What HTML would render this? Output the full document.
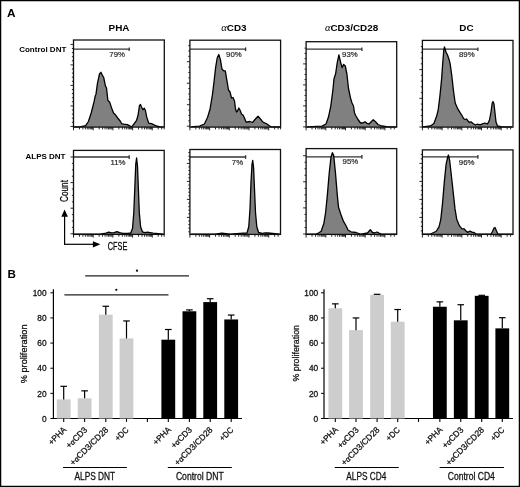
<!DOCTYPE html>
<html><head><meta charset="utf-8"><style>
html,body{margin:0;padding:0;background:#fff;}
body{width:520px;height:487px;overflow:hidden;}
svg{display:block;font-family:"Liberation Sans", sans-serif;filter:grayscale(1);}
.w{stroke:#111;stroke-width:0.28px;}
</style></head><body>
<svg width="520" height="487" viewBox="0 0 520 487">
<rect x="0" y="0" width="520" height="487" fill="#fff"/>
<line x1="73.5" y1="49.2" x2="129.2" y2="49.2" stroke="#333" stroke-width="1.3"/>
<line x1="129.2" y1="47.400000000000006" x2="129.2" y2="51.1" stroke="#333" stroke-width="1.3"/>
<text x="109.3" y="57.4" font-size="7.8" fill="#2a2a2a" class="w" style="stroke:#2a2a2a;stroke-width:0.2px">79%</text>
<path d="M74.10,126.95 L80.00,126.95 L85.60,125.60 L88.40,121.50 L91.20,113.00 L94.00,101.90 L95.30,95.60 L96.00,94.20 L97.40,83.70 L99.50,74.00 L100.90,72.30 L102.30,75.10 L103.70,77.50 L105.40,85.80 L106.50,88.00 L107.90,100.50 L109.60,101.90 L111.40,107.50 L113.50,113.00 L114.90,114.20 L117.70,118.00 L120.50,121.50 L121.70,123.70 L123.70,124.10 L127.50,124.60 L131.80,126.95 L134.20,123.70 L136.60,120.30 L138.10,115.00 L139.50,105.40 L140.50,104.40 L141.40,106.80 L142.90,109.70 L144.30,108.30 L145.30,110.20 L146.70,116.90 L148.70,123.20 L151.50,123.70 L153.50,124.60 L156.30,126.00 L160.20,126.95 L163.50,126.95 L163.50,127.1 L74.10,127.1 Z" fill="#808080" stroke="none"/>
<path d="M74.10,126.95 L80.00,126.95 L85.60,125.60 L88.40,121.50 L91.20,113.00 L94.00,101.90 L95.30,95.60 L96.00,94.20 L97.40,83.70 L99.50,74.00 L100.90,72.30 L102.30,75.10 L103.70,77.50 L105.40,85.80 L106.50,88.00 L107.90,100.50 L109.60,101.90 L111.40,107.50 L113.50,113.00 L114.90,114.20 L117.70,118.00 L120.50,121.50 L121.70,123.70 L123.70,124.10 L127.50,124.60 L131.80,126.95 L134.20,123.70 L136.60,120.30 L138.10,115.00 L139.50,105.40 L140.50,104.40 L141.40,106.80 L142.90,109.70 L144.30,108.30 L145.30,110.20 L146.70,116.90 L148.70,123.20 L151.50,123.70 L153.50,124.60 L156.30,126.00 L160.20,126.95 L163.50,126.95" fill="none" stroke="#000" stroke-width="1.3" stroke-linejoin="round"/>
<rect x="73.5" y="40.0" width="90.80000000000001" height="87.1" fill="none" stroke="#111" stroke-width="1.3"/>
<line x1="70.50" y1="44.40" x2="73.5" y2="44.40" stroke="#111" stroke-width="0.9"/>
<line x1="71.90" y1="48.50" x2="73.5" y2="48.50" stroke="#111" stroke-width="0.9"/>
<line x1="71.90" y1="52.60" x2="73.5" y2="52.60" stroke="#111" stroke-width="0.9"/>
<line x1="71.90" y1="56.70" x2="73.5" y2="56.70" stroke="#111" stroke-width="0.9"/>
<line x1="71.90" y1="60.80" x2="73.5" y2="60.80" stroke="#111" stroke-width="0.9"/>
<line x1="70.50" y1="64.90" x2="73.5" y2="64.90" stroke="#111" stroke-width="0.9"/>
<line x1="71.90" y1="69.00" x2="73.5" y2="69.00" stroke="#111" stroke-width="0.9"/>
<line x1="71.90" y1="73.10" x2="73.5" y2="73.10" stroke="#111" stroke-width="0.9"/>
<line x1="71.90" y1="77.20" x2="73.5" y2="77.20" stroke="#111" stroke-width="0.9"/>
<line x1="71.90" y1="81.30" x2="73.5" y2="81.30" stroke="#111" stroke-width="0.9"/>
<line x1="70.50" y1="85.40" x2="73.5" y2="85.40" stroke="#111" stroke-width="0.9"/>
<line x1="71.90" y1="89.50" x2="73.5" y2="89.50" stroke="#111" stroke-width="0.9"/>
<line x1="71.90" y1="93.60" x2="73.5" y2="93.60" stroke="#111" stroke-width="0.9"/>
<line x1="71.90" y1="97.70" x2="73.5" y2="97.70" stroke="#111" stroke-width="0.9"/>
<line x1="71.90" y1="101.80" x2="73.5" y2="101.80" stroke="#111" stroke-width="0.9"/>
<line x1="70.50" y1="105.90" x2="73.5" y2="105.90" stroke="#111" stroke-width="0.9"/>
<line x1="71.90" y1="110.00" x2="73.5" y2="110.00" stroke="#111" stroke-width="0.9"/>
<line x1="71.90" y1="114.10" x2="73.5" y2="114.10" stroke="#111" stroke-width="0.9"/>
<line x1="71.90" y1="118.20" x2="73.5" y2="118.20" stroke="#111" stroke-width="0.9"/>
<line x1="71.90" y1="122.30" x2="73.5" y2="122.30" stroke="#111" stroke-width="0.9"/>
<line x1="70.50" y1="126.40" x2="73.5" y2="126.40" stroke="#111" stroke-width="0.9"/>
<line x1="73.50" y1="127.1" x2="73.50" y2="130.30" stroke="#111" stroke-width="0.9"/>
<line x1="79.43" y1="127.1" x2="79.43" y2="129.40" stroke="#111" stroke-width="0.9"/>
<line x1="82.90" y1="127.1" x2="82.90" y2="129.40" stroke="#111" stroke-width="0.9"/>
<line x1="85.36" y1="127.1" x2="85.36" y2="129.40" stroke="#111" stroke-width="0.9"/>
<line x1="87.27" y1="127.1" x2="87.27" y2="129.40" stroke="#111" stroke-width="0.9"/>
<line x1="88.83" y1="127.1" x2="88.83" y2="129.40" stroke="#111" stroke-width="0.9"/>
<line x1="90.15" y1="127.1" x2="90.15" y2="129.40" stroke="#111" stroke-width="0.9"/>
<line x1="91.29" y1="127.1" x2="91.29" y2="129.40" stroke="#111" stroke-width="0.9"/>
<line x1="92.30" y1="127.1" x2="92.30" y2="129.40" stroke="#111" stroke-width="0.9"/>
<line x1="93.20" y1="127.1" x2="93.20" y2="130.30" stroke="#111" stroke-width="0.9"/>
<line x1="99.13" y1="127.1" x2="99.13" y2="129.40" stroke="#111" stroke-width="0.9"/>
<line x1="102.60" y1="127.1" x2="102.60" y2="129.40" stroke="#111" stroke-width="0.9"/>
<line x1="105.06" y1="127.1" x2="105.06" y2="129.40" stroke="#111" stroke-width="0.9"/>
<line x1="106.97" y1="127.1" x2="106.97" y2="129.40" stroke="#111" stroke-width="0.9"/>
<line x1="108.53" y1="127.1" x2="108.53" y2="129.40" stroke="#111" stroke-width="0.9"/>
<line x1="109.85" y1="127.1" x2="109.85" y2="129.40" stroke="#111" stroke-width="0.9"/>
<line x1="110.99" y1="127.1" x2="110.99" y2="129.40" stroke="#111" stroke-width="0.9"/>
<line x1="112.00" y1="127.1" x2="112.00" y2="129.40" stroke="#111" stroke-width="0.9"/>
<line x1="112.90" y1="127.1" x2="112.90" y2="130.30" stroke="#111" stroke-width="0.9"/>
<line x1="118.83" y1="127.1" x2="118.83" y2="129.40" stroke="#111" stroke-width="0.9"/>
<line x1="122.30" y1="127.1" x2="122.30" y2="129.40" stroke="#111" stroke-width="0.9"/>
<line x1="124.76" y1="127.1" x2="124.76" y2="129.40" stroke="#111" stroke-width="0.9"/>
<line x1="126.67" y1="127.1" x2="126.67" y2="129.40" stroke="#111" stroke-width="0.9"/>
<line x1="128.23" y1="127.1" x2="128.23" y2="129.40" stroke="#111" stroke-width="0.9"/>
<line x1="129.55" y1="127.1" x2="129.55" y2="129.40" stroke="#111" stroke-width="0.9"/>
<line x1="130.69" y1="127.1" x2="130.69" y2="129.40" stroke="#111" stroke-width="0.9"/>
<line x1="131.70" y1="127.1" x2="131.70" y2="129.40" stroke="#111" stroke-width="0.9"/>
<line x1="132.60" y1="127.1" x2="132.60" y2="130.30" stroke="#111" stroke-width="0.9"/>
<line x1="138.53" y1="127.1" x2="138.53" y2="129.40" stroke="#111" stroke-width="0.9"/>
<line x1="142.00" y1="127.1" x2="142.00" y2="129.40" stroke="#111" stroke-width="0.9"/>
<line x1="144.46" y1="127.1" x2="144.46" y2="129.40" stroke="#111" stroke-width="0.9"/>
<line x1="146.37" y1="127.1" x2="146.37" y2="129.40" stroke="#111" stroke-width="0.9"/>
<line x1="147.93" y1="127.1" x2="147.93" y2="129.40" stroke="#111" stroke-width="0.9"/>
<line x1="149.25" y1="127.1" x2="149.25" y2="129.40" stroke="#111" stroke-width="0.9"/>
<line x1="150.39" y1="127.1" x2="150.39" y2="129.40" stroke="#111" stroke-width="0.9"/>
<line x1="151.40" y1="127.1" x2="151.40" y2="129.40" stroke="#111" stroke-width="0.9"/>
<line x1="152.30" y1="127.1" x2="152.30" y2="130.30" stroke="#111" stroke-width="0.9"/>
<line x1="158.23" y1="127.1" x2="158.23" y2="129.40" stroke="#111" stroke-width="0.9"/>
<line x1="161.70" y1="127.1" x2="161.70" y2="129.40" stroke="#111" stroke-width="0.9"/>
<line x1="164.16" y1="127.1" x2="164.16" y2="129.40" stroke="#111" stroke-width="0.9"/>
<line x1="189.9" y1="49.2" x2="245.6" y2="49.2" stroke="#333" stroke-width="1.3"/>
<line x1="245.6" y1="47.400000000000006" x2="245.6" y2="51.1" stroke="#333" stroke-width="1.3"/>
<text x="226.1" y="57.4" font-size="7.8" fill="#2a2a2a" class="w" style="stroke:#2a2a2a;stroke-width:0.2px">90%</text>
<path d="M191.00,126.95 L199.60,126.10 L204.40,124.00 L207.60,117.30 L210.00,109.30 L212.40,94.90 L214.00,82.00 L215.60,67.60 L217.20,58.00 L218.80,54.50 L220.40,59.60 L222.00,69.20 L223.70,70.80 L225.30,70.80 L226.90,80.40 L228.50,90.00 L230.00,92.00 L231.50,98.00 L233.00,97.50 L234.50,101.00 L235.50,109.00 L236.50,112.00 L237.50,111.00 L238.80,108.00 L240.00,110.00 L241.50,114.00 L243.00,115.00 L244.50,118.00 L246.00,122.00 L247.50,122.00 L250.00,121.50 L252.50,122.50 L255.00,119.50 L258.00,116.20 L260.00,118.50 L263.00,122.20 L267.00,124.00 L271.00,126.95 L275.00,126.95 L280.00,126.95 L280.00,127.1 L191.00,127.1 Z" fill="#808080" stroke="none"/>
<path d="M191.00,126.95 L199.60,126.10 L204.40,124.00 L207.60,117.30 L210.00,109.30 L212.40,94.90 L214.00,82.00 L215.60,67.60 L217.20,58.00 L218.80,54.50 L220.40,59.60 L222.00,69.20 L223.70,70.80 L225.30,70.80 L226.90,80.40 L228.50,90.00 L230.00,92.00 L231.50,98.00 L233.00,97.50 L234.50,101.00 L235.50,109.00 L236.50,112.00 L237.50,111.00 L238.80,108.00 L240.00,110.00 L241.50,114.00 L243.00,115.00 L244.50,118.00 L246.00,122.00 L247.50,122.00 L250.00,121.50 L252.50,122.50 L255.00,119.50 L258.00,116.20 L260.00,118.50 L263.00,122.20 L267.00,124.00 L271.00,126.95 L275.00,126.95 L280.00,126.95" fill="none" stroke="#000" stroke-width="1.3" stroke-linejoin="round"/>
<rect x="189.9" y="40.2" width="90.70000000000002" height="86.89999999999999" fill="none" stroke="#111" stroke-width="1.3"/>
<line x1="188.30" y1="45.58" x2="189.9" y2="45.58" stroke="#111" stroke-width="0.9"/>
<line x1="188.30" y1="50.95" x2="189.9" y2="50.95" stroke="#111" stroke-width="0.9"/>
<line x1="188.30" y1="56.33" x2="189.9" y2="56.33" stroke="#111" stroke-width="0.9"/>
<line x1="186.90" y1="61.70" x2="189.9" y2="61.70" stroke="#111" stroke-width="0.9"/>
<line x1="188.30" y1="67.08" x2="189.9" y2="67.08" stroke="#111" stroke-width="0.9"/>
<line x1="188.30" y1="72.45" x2="189.9" y2="72.45" stroke="#111" stroke-width="0.9"/>
<line x1="188.30" y1="77.83" x2="189.9" y2="77.83" stroke="#111" stroke-width="0.9"/>
<line x1="186.90" y1="83.20" x2="189.9" y2="83.20" stroke="#111" stroke-width="0.9"/>
<line x1="188.30" y1="88.58" x2="189.9" y2="88.58" stroke="#111" stroke-width="0.9"/>
<line x1="188.30" y1="93.95" x2="189.9" y2="93.95" stroke="#111" stroke-width="0.9"/>
<line x1="188.30" y1="99.33" x2="189.9" y2="99.33" stroke="#111" stroke-width="0.9"/>
<line x1="186.90" y1="104.70" x2="189.9" y2="104.70" stroke="#111" stroke-width="0.9"/>
<line x1="188.30" y1="110.08" x2="189.9" y2="110.08" stroke="#111" stroke-width="0.9"/>
<line x1="188.30" y1="115.45" x2="189.9" y2="115.45" stroke="#111" stroke-width="0.9"/>
<line x1="188.30" y1="120.83" x2="189.9" y2="120.83" stroke="#111" stroke-width="0.9"/>
<line x1="186.90" y1="126.20" x2="189.9" y2="126.20" stroke="#111" stroke-width="0.9"/>
<line x1="189.90" y1="127.1" x2="189.90" y2="130.30" stroke="#111" stroke-width="0.9"/>
<line x1="195.83" y1="127.1" x2="195.83" y2="129.40" stroke="#111" stroke-width="0.9"/>
<line x1="199.30" y1="127.1" x2="199.30" y2="129.40" stroke="#111" stroke-width="0.9"/>
<line x1="201.76" y1="127.1" x2="201.76" y2="129.40" stroke="#111" stroke-width="0.9"/>
<line x1="203.67" y1="127.1" x2="203.67" y2="129.40" stroke="#111" stroke-width="0.9"/>
<line x1="205.23" y1="127.1" x2="205.23" y2="129.40" stroke="#111" stroke-width="0.9"/>
<line x1="206.55" y1="127.1" x2="206.55" y2="129.40" stroke="#111" stroke-width="0.9"/>
<line x1="207.69" y1="127.1" x2="207.69" y2="129.40" stroke="#111" stroke-width="0.9"/>
<line x1="208.70" y1="127.1" x2="208.70" y2="129.40" stroke="#111" stroke-width="0.9"/>
<line x1="209.60" y1="127.1" x2="209.60" y2="130.30" stroke="#111" stroke-width="0.9"/>
<line x1="215.53" y1="127.1" x2="215.53" y2="129.40" stroke="#111" stroke-width="0.9"/>
<line x1="219.00" y1="127.1" x2="219.00" y2="129.40" stroke="#111" stroke-width="0.9"/>
<line x1="221.46" y1="127.1" x2="221.46" y2="129.40" stroke="#111" stroke-width="0.9"/>
<line x1="223.37" y1="127.1" x2="223.37" y2="129.40" stroke="#111" stroke-width="0.9"/>
<line x1="224.93" y1="127.1" x2="224.93" y2="129.40" stroke="#111" stroke-width="0.9"/>
<line x1="226.25" y1="127.1" x2="226.25" y2="129.40" stroke="#111" stroke-width="0.9"/>
<line x1="227.39" y1="127.1" x2="227.39" y2="129.40" stroke="#111" stroke-width="0.9"/>
<line x1="228.40" y1="127.1" x2="228.40" y2="129.40" stroke="#111" stroke-width="0.9"/>
<line x1="229.30" y1="127.1" x2="229.30" y2="130.30" stroke="#111" stroke-width="0.9"/>
<line x1="235.23" y1="127.1" x2="235.23" y2="129.40" stroke="#111" stroke-width="0.9"/>
<line x1="238.70" y1="127.1" x2="238.70" y2="129.40" stroke="#111" stroke-width="0.9"/>
<line x1="241.16" y1="127.1" x2="241.16" y2="129.40" stroke="#111" stroke-width="0.9"/>
<line x1="243.07" y1="127.1" x2="243.07" y2="129.40" stroke="#111" stroke-width="0.9"/>
<line x1="244.63" y1="127.1" x2="244.63" y2="129.40" stroke="#111" stroke-width="0.9"/>
<line x1="245.95" y1="127.1" x2="245.95" y2="129.40" stroke="#111" stroke-width="0.9"/>
<line x1="247.09" y1="127.1" x2="247.09" y2="129.40" stroke="#111" stroke-width="0.9"/>
<line x1="248.10" y1="127.1" x2="248.10" y2="129.40" stroke="#111" stroke-width="0.9"/>
<line x1="249.00" y1="127.1" x2="249.00" y2="130.30" stroke="#111" stroke-width="0.9"/>
<line x1="254.93" y1="127.1" x2="254.93" y2="129.40" stroke="#111" stroke-width="0.9"/>
<line x1="258.40" y1="127.1" x2="258.40" y2="129.40" stroke="#111" stroke-width="0.9"/>
<line x1="260.86" y1="127.1" x2="260.86" y2="129.40" stroke="#111" stroke-width="0.9"/>
<line x1="262.77" y1="127.1" x2="262.77" y2="129.40" stroke="#111" stroke-width="0.9"/>
<line x1="264.33" y1="127.1" x2="264.33" y2="129.40" stroke="#111" stroke-width="0.9"/>
<line x1="265.65" y1="127.1" x2="265.65" y2="129.40" stroke="#111" stroke-width="0.9"/>
<line x1="266.79" y1="127.1" x2="266.79" y2="129.40" stroke="#111" stroke-width="0.9"/>
<line x1="267.80" y1="127.1" x2="267.80" y2="129.40" stroke="#111" stroke-width="0.9"/>
<line x1="268.70" y1="127.1" x2="268.70" y2="130.30" stroke="#111" stroke-width="0.9"/>
<line x1="274.63" y1="127.1" x2="274.63" y2="129.40" stroke="#111" stroke-width="0.9"/>
<line x1="278.10" y1="127.1" x2="278.10" y2="129.40" stroke="#111" stroke-width="0.9"/>
<line x1="280.56" y1="127.1" x2="280.56" y2="129.40" stroke="#111" stroke-width="0.9"/>
<line x1="306.1" y1="49.2" x2="361.9" y2="49.2" stroke="#333" stroke-width="1.3"/>
<line x1="361.9" y1="47.400000000000006" x2="361.9" y2="51.1" stroke="#333" stroke-width="1.3"/>
<text x="342.1" y="57.4" font-size="7.8" fill="#2a2a2a" class="w" style="stroke:#2a2a2a;stroke-width:0.2px">93%</text>
<path d="M307.00,126.95 L322.00,126.10 L326.00,124.00 L328.40,117.30 L330.80,106.10 L332.90,90.00 L334.00,78.80 L335.60,74.00 L337.20,62.80 L338.90,54.80 L340.50,62.00 L342.10,67.60 L343.70,64.40 L345.30,66.00 L346.90,74.00 L348.50,88.50 L350.50,98.00 L352.00,103.00 L353.50,106.00 L354.50,113.00 L356.00,116.00 L358.00,119.50 L360.50,123.00 L362.50,123.00 L365.00,121.80 L367.00,123.30 L369.00,124.00 L371.00,122.00 L373.20,119.80 L375.50,121.80 L378.00,124.50 L382.00,126.00 L388.00,126.95 L396.10,126.95 L396.10,127.1 L307.00,127.1 Z" fill="#808080" stroke="none"/>
<path d="M307.00,126.95 L322.00,126.10 L326.00,124.00 L328.40,117.30 L330.80,106.10 L332.90,90.00 L334.00,78.80 L335.60,74.00 L337.20,62.80 L338.90,54.80 L340.50,62.00 L342.10,67.60 L343.70,64.40 L345.30,66.00 L346.90,74.00 L348.50,88.50 L350.50,98.00 L352.00,103.00 L353.50,106.00 L354.50,113.00 L356.00,116.00 L358.00,119.50 L360.50,123.00 L362.50,123.00 L365.00,121.80 L367.00,123.30 L369.00,124.00 L371.00,122.00 L373.20,119.80 L375.50,121.80 L378.00,124.50 L382.00,126.00 L388.00,126.95 L396.10,126.95" fill="none" stroke="#000" stroke-width="1.3" stroke-linejoin="round"/>
<rect x="306.1" y="41.7" width="90.59999999999997" height="85.39999999999999" fill="none" stroke="#111" stroke-width="1.3"/>
<line x1="304.50" y1="48.15" x2="306.1" y2="48.15" stroke="#111" stroke-width="0.9"/>
<line x1="304.50" y1="53.40" x2="306.1" y2="53.40" stroke="#111" stroke-width="0.9"/>
<line x1="304.50" y1="58.65" x2="306.1" y2="58.65" stroke="#111" stroke-width="0.9"/>
<line x1="303.10" y1="63.90" x2="306.1" y2="63.90" stroke="#111" stroke-width="0.9"/>
<line x1="304.50" y1="69.15" x2="306.1" y2="69.15" stroke="#111" stroke-width="0.9"/>
<line x1="304.50" y1="74.40" x2="306.1" y2="74.40" stroke="#111" stroke-width="0.9"/>
<line x1="304.50" y1="79.65" x2="306.1" y2="79.65" stroke="#111" stroke-width="0.9"/>
<line x1="303.10" y1="84.90" x2="306.1" y2="84.90" stroke="#111" stroke-width="0.9"/>
<line x1="304.50" y1="90.15" x2="306.1" y2="90.15" stroke="#111" stroke-width="0.9"/>
<line x1="304.50" y1="95.40" x2="306.1" y2="95.40" stroke="#111" stroke-width="0.9"/>
<line x1="304.50" y1="100.65" x2="306.1" y2="100.65" stroke="#111" stroke-width="0.9"/>
<line x1="303.10" y1="105.90" x2="306.1" y2="105.90" stroke="#111" stroke-width="0.9"/>
<line x1="304.50" y1="111.15" x2="306.1" y2="111.15" stroke="#111" stroke-width="0.9"/>
<line x1="304.50" y1="116.40" x2="306.1" y2="116.40" stroke="#111" stroke-width="0.9"/>
<line x1="304.50" y1="121.65" x2="306.1" y2="121.65" stroke="#111" stroke-width="0.9"/>
<line x1="303.10" y1="126.90" x2="306.1" y2="126.90" stroke="#111" stroke-width="0.9"/>
<line x1="306.10" y1="127.1" x2="306.10" y2="130.30" stroke="#111" stroke-width="0.9"/>
<line x1="312.03" y1="127.1" x2="312.03" y2="129.40" stroke="#111" stroke-width="0.9"/>
<line x1="315.50" y1="127.1" x2="315.50" y2="129.40" stroke="#111" stroke-width="0.9"/>
<line x1="317.96" y1="127.1" x2="317.96" y2="129.40" stroke="#111" stroke-width="0.9"/>
<line x1="319.87" y1="127.1" x2="319.87" y2="129.40" stroke="#111" stroke-width="0.9"/>
<line x1="321.43" y1="127.1" x2="321.43" y2="129.40" stroke="#111" stroke-width="0.9"/>
<line x1="322.75" y1="127.1" x2="322.75" y2="129.40" stroke="#111" stroke-width="0.9"/>
<line x1="323.89" y1="127.1" x2="323.89" y2="129.40" stroke="#111" stroke-width="0.9"/>
<line x1="324.90" y1="127.1" x2="324.90" y2="129.40" stroke="#111" stroke-width="0.9"/>
<line x1="325.80" y1="127.1" x2="325.80" y2="130.30" stroke="#111" stroke-width="0.9"/>
<line x1="331.73" y1="127.1" x2="331.73" y2="129.40" stroke="#111" stroke-width="0.9"/>
<line x1="335.20" y1="127.1" x2="335.20" y2="129.40" stroke="#111" stroke-width="0.9"/>
<line x1="337.66" y1="127.1" x2="337.66" y2="129.40" stroke="#111" stroke-width="0.9"/>
<line x1="339.57" y1="127.1" x2="339.57" y2="129.40" stroke="#111" stroke-width="0.9"/>
<line x1="341.13" y1="127.1" x2="341.13" y2="129.40" stroke="#111" stroke-width="0.9"/>
<line x1="342.45" y1="127.1" x2="342.45" y2="129.40" stroke="#111" stroke-width="0.9"/>
<line x1="343.59" y1="127.1" x2="343.59" y2="129.40" stroke="#111" stroke-width="0.9"/>
<line x1="344.60" y1="127.1" x2="344.60" y2="129.40" stroke="#111" stroke-width="0.9"/>
<line x1="345.50" y1="127.1" x2="345.50" y2="130.30" stroke="#111" stroke-width="0.9"/>
<line x1="351.43" y1="127.1" x2="351.43" y2="129.40" stroke="#111" stroke-width="0.9"/>
<line x1="354.90" y1="127.1" x2="354.90" y2="129.40" stroke="#111" stroke-width="0.9"/>
<line x1="357.36" y1="127.1" x2="357.36" y2="129.40" stroke="#111" stroke-width="0.9"/>
<line x1="359.27" y1="127.1" x2="359.27" y2="129.40" stroke="#111" stroke-width="0.9"/>
<line x1="360.83" y1="127.1" x2="360.83" y2="129.40" stroke="#111" stroke-width="0.9"/>
<line x1="362.15" y1="127.1" x2="362.15" y2="129.40" stroke="#111" stroke-width="0.9"/>
<line x1="363.29" y1="127.1" x2="363.29" y2="129.40" stroke="#111" stroke-width="0.9"/>
<line x1="364.30" y1="127.1" x2="364.30" y2="129.40" stroke="#111" stroke-width="0.9"/>
<line x1="365.20" y1="127.1" x2="365.20" y2="130.30" stroke="#111" stroke-width="0.9"/>
<line x1="371.13" y1="127.1" x2="371.13" y2="129.40" stroke="#111" stroke-width="0.9"/>
<line x1="374.60" y1="127.1" x2="374.60" y2="129.40" stroke="#111" stroke-width="0.9"/>
<line x1="377.06" y1="127.1" x2="377.06" y2="129.40" stroke="#111" stroke-width="0.9"/>
<line x1="378.97" y1="127.1" x2="378.97" y2="129.40" stroke="#111" stroke-width="0.9"/>
<line x1="380.53" y1="127.1" x2="380.53" y2="129.40" stroke="#111" stroke-width="0.9"/>
<line x1="381.85" y1="127.1" x2="381.85" y2="129.40" stroke="#111" stroke-width="0.9"/>
<line x1="382.99" y1="127.1" x2="382.99" y2="129.40" stroke="#111" stroke-width="0.9"/>
<line x1="384.00" y1="127.1" x2="384.00" y2="129.40" stroke="#111" stroke-width="0.9"/>
<line x1="384.90" y1="127.1" x2="384.90" y2="130.30" stroke="#111" stroke-width="0.9"/>
<line x1="390.83" y1="127.1" x2="390.83" y2="129.40" stroke="#111" stroke-width="0.9"/>
<line x1="394.30" y1="127.1" x2="394.30" y2="129.40" stroke="#111" stroke-width="0.9"/>
<line x1="422.4" y1="49.2" x2="477.9" y2="49.2" stroke="#333" stroke-width="1.3"/>
<line x1="477.9" y1="47.400000000000006" x2="477.9" y2="51.1" stroke="#333" stroke-width="1.3"/>
<text x="459.0" y="57.4" font-size="7.8" fill="#2a2a2a" class="w" style="stroke:#2a2a2a;stroke-width:0.2px">89%</text>
<path d="M423.00,126.95 L430.50,126.00 L433.90,123.40 L436.50,116.60 L438.20,109.80 L439.90,96.10 L441.60,79.10 L442.80,62.00 L443.80,50.10 L444.50,47.00 L445.90,51.80 L447.60,55.20 L449.30,60.30 L450.10,63.70 L451.80,75.70 L453.50,91.00 L455.20,103.00 L457.80,108.90 L460.40,113.20 L462.00,115.50 L463.50,118.50 L465.00,119.50 L466.50,119.00 L468.00,121.00 L469.50,122.50 L471.00,121.80 L473.00,123.50 L475.50,125.00 L477.50,124.20 L480.00,124.80 L482.50,123.80 L485.00,123.00 L487.50,124.00 L489.50,120.00 L491.00,112.00 L492.20,103.00 L493.00,101.50 L494.00,104.00 L495.00,113.00 L496.00,122.00 L497.50,126.00 L502.00,126.95 L512.40,126.95 L512.40,127.1 L423.00,127.1 Z" fill="#808080" stroke="none"/>
<path d="M423.00,126.95 L430.50,126.00 L433.90,123.40 L436.50,116.60 L438.20,109.80 L439.90,96.10 L441.60,79.10 L442.80,62.00 L443.80,50.10 L444.50,47.00 L445.90,51.80 L447.60,55.20 L449.30,60.30 L450.10,63.70 L451.80,75.70 L453.50,91.00 L455.20,103.00 L457.80,108.90 L460.40,113.20 L462.00,115.50 L463.50,118.50 L465.00,119.50 L466.50,119.00 L468.00,121.00 L469.50,122.50 L471.00,121.80 L473.00,123.50 L475.50,125.00 L477.50,124.20 L480.00,124.80 L482.50,123.80 L485.00,123.00 L487.50,124.00 L489.50,120.00 L491.00,112.00 L492.20,103.00 L493.00,101.50 L494.00,104.00 L495.00,113.00 L496.00,122.00 L497.50,126.00 L502.00,126.95 L512.40,126.95" fill="none" stroke="#000" stroke-width="1.3" stroke-linejoin="round"/>
<rect x="422.4" y="40.4" width="90.60000000000002" height="86.69999999999999" fill="none" stroke="#111" stroke-width="1.3"/>
<line x1="420.80" y1="46.64" x2="422.4" y2="46.64" stroke="#111" stroke-width="0.9"/>
<line x1="420.80" y1="52.38" x2="422.4" y2="52.38" stroke="#111" stroke-width="0.9"/>
<line x1="420.80" y1="58.12" x2="422.4" y2="58.12" stroke="#111" stroke-width="0.9"/>
<line x1="420.80" y1="63.86" x2="422.4" y2="63.86" stroke="#111" stroke-width="0.9"/>
<line x1="419.40" y1="69.60" x2="422.4" y2="69.60" stroke="#111" stroke-width="0.9"/>
<line x1="420.80" y1="75.34" x2="422.4" y2="75.34" stroke="#111" stroke-width="0.9"/>
<line x1="420.80" y1="81.08" x2="422.4" y2="81.08" stroke="#111" stroke-width="0.9"/>
<line x1="420.80" y1="86.82" x2="422.4" y2="86.82" stroke="#111" stroke-width="0.9"/>
<line x1="420.80" y1="92.56" x2="422.4" y2="92.56" stroke="#111" stroke-width="0.9"/>
<line x1="419.40" y1="98.30" x2="422.4" y2="98.30" stroke="#111" stroke-width="0.9"/>
<line x1="420.80" y1="104.04" x2="422.4" y2="104.04" stroke="#111" stroke-width="0.9"/>
<line x1="420.80" y1="109.78" x2="422.4" y2="109.78" stroke="#111" stroke-width="0.9"/>
<line x1="420.80" y1="115.52" x2="422.4" y2="115.52" stroke="#111" stroke-width="0.9"/>
<line x1="420.80" y1="121.26" x2="422.4" y2="121.26" stroke="#111" stroke-width="0.9"/>
<line x1="419.40" y1="127.00" x2="422.4" y2="127.00" stroke="#111" stroke-width="0.9"/>
<line x1="422.40" y1="127.1" x2="422.40" y2="130.30" stroke="#111" stroke-width="0.9"/>
<line x1="428.33" y1="127.1" x2="428.33" y2="129.40" stroke="#111" stroke-width="0.9"/>
<line x1="431.80" y1="127.1" x2="431.80" y2="129.40" stroke="#111" stroke-width="0.9"/>
<line x1="434.26" y1="127.1" x2="434.26" y2="129.40" stroke="#111" stroke-width="0.9"/>
<line x1="436.17" y1="127.1" x2="436.17" y2="129.40" stroke="#111" stroke-width="0.9"/>
<line x1="437.73" y1="127.1" x2="437.73" y2="129.40" stroke="#111" stroke-width="0.9"/>
<line x1="439.05" y1="127.1" x2="439.05" y2="129.40" stroke="#111" stroke-width="0.9"/>
<line x1="440.19" y1="127.1" x2="440.19" y2="129.40" stroke="#111" stroke-width="0.9"/>
<line x1="441.20" y1="127.1" x2="441.20" y2="129.40" stroke="#111" stroke-width="0.9"/>
<line x1="442.10" y1="127.1" x2="442.10" y2="130.30" stroke="#111" stroke-width="0.9"/>
<line x1="448.03" y1="127.1" x2="448.03" y2="129.40" stroke="#111" stroke-width="0.9"/>
<line x1="451.50" y1="127.1" x2="451.50" y2="129.40" stroke="#111" stroke-width="0.9"/>
<line x1="453.96" y1="127.1" x2="453.96" y2="129.40" stroke="#111" stroke-width="0.9"/>
<line x1="455.87" y1="127.1" x2="455.87" y2="129.40" stroke="#111" stroke-width="0.9"/>
<line x1="457.43" y1="127.1" x2="457.43" y2="129.40" stroke="#111" stroke-width="0.9"/>
<line x1="458.75" y1="127.1" x2="458.75" y2="129.40" stroke="#111" stroke-width="0.9"/>
<line x1="459.89" y1="127.1" x2="459.89" y2="129.40" stroke="#111" stroke-width="0.9"/>
<line x1="460.90" y1="127.1" x2="460.90" y2="129.40" stroke="#111" stroke-width="0.9"/>
<line x1="461.80" y1="127.1" x2="461.80" y2="130.30" stroke="#111" stroke-width="0.9"/>
<line x1="467.73" y1="127.1" x2="467.73" y2="129.40" stroke="#111" stroke-width="0.9"/>
<line x1="471.20" y1="127.1" x2="471.20" y2="129.40" stroke="#111" stroke-width="0.9"/>
<line x1="473.66" y1="127.1" x2="473.66" y2="129.40" stroke="#111" stroke-width="0.9"/>
<line x1="475.57" y1="127.1" x2="475.57" y2="129.40" stroke="#111" stroke-width="0.9"/>
<line x1="477.13" y1="127.1" x2="477.13" y2="129.40" stroke="#111" stroke-width="0.9"/>
<line x1="478.45" y1="127.1" x2="478.45" y2="129.40" stroke="#111" stroke-width="0.9"/>
<line x1="479.59" y1="127.1" x2="479.59" y2="129.40" stroke="#111" stroke-width="0.9"/>
<line x1="480.60" y1="127.1" x2="480.60" y2="129.40" stroke="#111" stroke-width="0.9"/>
<line x1="481.50" y1="127.1" x2="481.50" y2="130.30" stroke="#111" stroke-width="0.9"/>
<line x1="487.43" y1="127.1" x2="487.43" y2="129.40" stroke="#111" stroke-width="0.9"/>
<line x1="490.90" y1="127.1" x2="490.90" y2="129.40" stroke="#111" stroke-width="0.9"/>
<line x1="493.36" y1="127.1" x2="493.36" y2="129.40" stroke="#111" stroke-width="0.9"/>
<line x1="495.27" y1="127.1" x2="495.27" y2="129.40" stroke="#111" stroke-width="0.9"/>
<line x1="496.83" y1="127.1" x2="496.83" y2="129.40" stroke="#111" stroke-width="0.9"/>
<line x1="498.15" y1="127.1" x2="498.15" y2="129.40" stroke="#111" stroke-width="0.9"/>
<line x1="499.29" y1="127.1" x2="499.29" y2="129.40" stroke="#111" stroke-width="0.9"/>
<line x1="500.30" y1="127.1" x2="500.30" y2="129.40" stroke="#111" stroke-width="0.9"/>
<line x1="501.20" y1="127.1" x2="501.20" y2="130.30" stroke="#111" stroke-width="0.9"/>
<line x1="507.13" y1="127.1" x2="507.13" y2="129.40" stroke="#111" stroke-width="0.9"/>
<line x1="510.60" y1="127.1" x2="510.60" y2="129.40" stroke="#111" stroke-width="0.9"/>
<line x1="73.5" y1="157.0" x2="129.2" y2="157.0" stroke="#333" stroke-width="1.3"/>
<line x1="129.2" y1="155.2" x2="129.2" y2="158.9" stroke="#333" stroke-width="1.3"/>
<text x="110.4" y="164.7" font-size="7.8" fill="#2a2a2a" class="w" style="stroke:#2a2a2a;stroke-width:0.2px">11%</text>
<path d="M74.10,234.25 L100.00,234.25 L106.00,233.20 L108.80,232.10 L111.50,232.80 L114.00,232.60 L117.10,231.60 L119.50,232.60 L123.00,233.40 L128.00,233.40 L130.75,233.00 L132.50,228.60 L133.80,212.50 L134.90,185.70 L135.75,164.30 L136.60,158.00 L137.50,166.00 L138.40,189.30 L139.30,212.50 L140.60,226.80 L142.40,231.80 L145.00,232.60 L147.50,232.20 L150.00,232.60 L153.00,233.20 L163.50,234.25 L163.50,234.4 L74.10,234.4 Z" fill="#808080" stroke="none"/>
<path d="M74.10,234.25 L100.00,234.25 L106.00,233.20 L108.80,232.10 L111.50,232.80 L114.00,232.60 L117.10,231.60 L119.50,232.60 L123.00,233.40 L128.00,233.40 L130.75,233.00 L132.50,228.60 L133.80,212.50 L134.90,185.70 L135.75,164.30 L136.60,158.00 L137.50,166.00 L138.40,189.30 L139.30,212.50 L140.60,226.80 L142.40,231.80 L145.00,232.60 L147.50,232.20 L150.00,232.60 L153.00,233.20 L163.50,234.25" fill="none" stroke="#000" stroke-width="1.3" stroke-linejoin="round"/>
<rect x="73.5" y="150.4" width="90.69999999999999" height="84.0" fill="none" stroke="#111" stroke-width="1.3"/>
<line x1="70.50" y1="157.00" x2="73.5" y2="157.00" stroke="#111" stroke-width="0.9"/>
<line x1="71.90" y1="163.40" x2="73.5" y2="163.40" stroke="#111" stroke-width="0.9"/>
<line x1="71.90" y1="169.80" x2="73.5" y2="169.80" stroke="#111" stroke-width="0.9"/>
<line x1="71.90" y1="176.20" x2="73.5" y2="176.20" stroke="#111" stroke-width="0.9"/>
<line x1="70.50" y1="182.60" x2="73.5" y2="182.60" stroke="#111" stroke-width="0.9"/>
<line x1="71.90" y1="189.00" x2="73.5" y2="189.00" stroke="#111" stroke-width="0.9"/>
<line x1="71.90" y1="195.40" x2="73.5" y2="195.40" stroke="#111" stroke-width="0.9"/>
<line x1="71.90" y1="201.80" x2="73.5" y2="201.80" stroke="#111" stroke-width="0.9"/>
<line x1="70.50" y1="208.20" x2="73.5" y2="208.20" stroke="#111" stroke-width="0.9"/>
<line x1="71.90" y1="214.60" x2="73.5" y2="214.60" stroke="#111" stroke-width="0.9"/>
<line x1="71.90" y1="221.00" x2="73.5" y2="221.00" stroke="#111" stroke-width="0.9"/>
<line x1="71.90" y1="227.40" x2="73.5" y2="227.40" stroke="#111" stroke-width="0.9"/>
<line x1="70.50" y1="233.80" x2="73.5" y2="233.80" stroke="#111" stroke-width="0.9"/>
<line x1="73.50" y1="234.4" x2="73.50" y2="237.60" stroke="#111" stroke-width="0.9"/>
<line x1="79.43" y1="234.4" x2="79.43" y2="236.70" stroke="#111" stroke-width="0.9"/>
<line x1="82.90" y1="234.4" x2="82.90" y2="236.70" stroke="#111" stroke-width="0.9"/>
<line x1="85.36" y1="234.4" x2="85.36" y2="236.70" stroke="#111" stroke-width="0.9"/>
<line x1="87.27" y1="234.4" x2="87.27" y2="236.70" stroke="#111" stroke-width="0.9"/>
<line x1="88.83" y1="234.4" x2="88.83" y2="236.70" stroke="#111" stroke-width="0.9"/>
<line x1="90.15" y1="234.4" x2="90.15" y2="236.70" stroke="#111" stroke-width="0.9"/>
<line x1="91.29" y1="234.4" x2="91.29" y2="236.70" stroke="#111" stroke-width="0.9"/>
<line x1="92.30" y1="234.4" x2="92.30" y2="236.70" stroke="#111" stroke-width="0.9"/>
<line x1="93.20" y1="234.4" x2="93.20" y2="237.60" stroke="#111" stroke-width="0.9"/>
<line x1="99.13" y1="234.4" x2="99.13" y2="236.70" stroke="#111" stroke-width="0.9"/>
<line x1="102.60" y1="234.4" x2="102.60" y2="236.70" stroke="#111" stroke-width="0.9"/>
<line x1="105.06" y1="234.4" x2="105.06" y2="236.70" stroke="#111" stroke-width="0.9"/>
<line x1="106.97" y1="234.4" x2="106.97" y2="236.70" stroke="#111" stroke-width="0.9"/>
<line x1="108.53" y1="234.4" x2="108.53" y2="236.70" stroke="#111" stroke-width="0.9"/>
<line x1="109.85" y1="234.4" x2="109.85" y2="236.70" stroke="#111" stroke-width="0.9"/>
<line x1="110.99" y1="234.4" x2="110.99" y2="236.70" stroke="#111" stroke-width="0.9"/>
<line x1="112.00" y1="234.4" x2="112.00" y2="236.70" stroke="#111" stroke-width="0.9"/>
<line x1="112.90" y1="234.4" x2="112.90" y2="237.60" stroke="#111" stroke-width="0.9"/>
<line x1="118.83" y1="234.4" x2="118.83" y2="236.70" stroke="#111" stroke-width="0.9"/>
<line x1="122.30" y1="234.4" x2="122.30" y2="236.70" stroke="#111" stroke-width="0.9"/>
<line x1="124.76" y1="234.4" x2="124.76" y2="236.70" stroke="#111" stroke-width="0.9"/>
<line x1="126.67" y1="234.4" x2="126.67" y2="236.70" stroke="#111" stroke-width="0.9"/>
<line x1="128.23" y1="234.4" x2="128.23" y2="236.70" stroke="#111" stroke-width="0.9"/>
<line x1="129.55" y1="234.4" x2="129.55" y2="236.70" stroke="#111" stroke-width="0.9"/>
<line x1="130.69" y1="234.4" x2="130.69" y2="236.70" stroke="#111" stroke-width="0.9"/>
<line x1="131.70" y1="234.4" x2="131.70" y2="236.70" stroke="#111" stroke-width="0.9"/>
<line x1="132.60" y1="234.4" x2="132.60" y2="237.60" stroke="#111" stroke-width="0.9"/>
<line x1="138.53" y1="234.4" x2="138.53" y2="236.70" stroke="#111" stroke-width="0.9"/>
<line x1="142.00" y1="234.4" x2="142.00" y2="236.70" stroke="#111" stroke-width="0.9"/>
<line x1="144.46" y1="234.4" x2="144.46" y2="236.70" stroke="#111" stroke-width="0.9"/>
<line x1="146.37" y1="234.4" x2="146.37" y2="236.70" stroke="#111" stroke-width="0.9"/>
<line x1="147.93" y1="234.4" x2="147.93" y2="236.70" stroke="#111" stroke-width="0.9"/>
<line x1="149.25" y1="234.4" x2="149.25" y2="236.70" stroke="#111" stroke-width="0.9"/>
<line x1="150.39" y1="234.4" x2="150.39" y2="236.70" stroke="#111" stroke-width="0.9"/>
<line x1="151.40" y1="234.4" x2="151.40" y2="236.70" stroke="#111" stroke-width="0.9"/>
<line x1="152.30" y1="234.4" x2="152.30" y2="237.60" stroke="#111" stroke-width="0.9"/>
<line x1="158.23" y1="234.4" x2="158.23" y2="236.70" stroke="#111" stroke-width="0.9"/>
<line x1="161.70" y1="234.4" x2="161.70" y2="236.70" stroke="#111" stroke-width="0.9"/>
<line x1="164.16" y1="234.4" x2="164.16" y2="236.70" stroke="#111" stroke-width="0.9"/>
<line x1="189.9" y1="157.0" x2="245.6" y2="157.0" stroke="#333" stroke-width="1.3"/>
<line x1="245.6" y1="155.2" x2="245.6" y2="158.9" stroke="#333" stroke-width="1.3"/>
<text x="231.8" y="164.7" font-size="7.8" fill="#2a2a2a" class="w" style="stroke:#2a2a2a;stroke-width:0.2px">7%</text>
<path d="M191.00,234.25 L215.00,234.25 L222.00,233.20 L230.00,234.25 L240.00,233.40 L247.00,233.00 L248.75,226.80 L250.00,209.00 L251.00,182.00 L252.00,164.30 L252.70,160.40 L253.60,167.90 L254.50,189.30 L255.50,212.50 L256.80,226.80 L258.60,232.50 L262.00,233.30 L265.50,232.80 L268.00,233.00 L279.90,234.25 L279.90,234.4 L191.00,234.4 Z" fill="#808080" stroke="none"/>
<path d="M191.00,234.25 L215.00,234.25 L222.00,233.20 L230.00,234.25 L240.00,233.40 L247.00,233.00 L248.75,226.80 L250.00,209.00 L251.00,182.00 L252.00,164.30 L252.70,160.40 L253.60,167.90 L254.50,189.30 L255.50,212.50 L256.80,226.80 L258.60,232.50 L262.00,233.30 L265.50,232.80 L268.00,233.00 L279.90,234.25" fill="none" stroke="#000" stroke-width="1.3" stroke-linejoin="round"/>
<rect x="189.9" y="149.5" width="90.6" height="84.9" fill="none" stroke="#111" stroke-width="1.3"/>
<line x1="188.30" y1="152.60" x2="189.9" y2="152.60" stroke="#111" stroke-width="0.9"/>
<line x1="188.30" y1="156.20" x2="189.9" y2="156.20" stroke="#111" stroke-width="0.9"/>
<line x1="188.30" y1="159.80" x2="189.9" y2="159.80" stroke="#111" stroke-width="0.9"/>
<line x1="186.90" y1="163.40" x2="189.9" y2="163.40" stroke="#111" stroke-width="0.9"/>
<line x1="188.30" y1="167.00" x2="189.9" y2="167.00" stroke="#111" stroke-width="0.9"/>
<line x1="188.30" y1="170.60" x2="189.9" y2="170.60" stroke="#111" stroke-width="0.9"/>
<line x1="188.30" y1="174.20" x2="189.9" y2="174.20" stroke="#111" stroke-width="0.9"/>
<line x1="188.30" y1="177.80" x2="189.9" y2="177.80" stroke="#111" stroke-width="0.9"/>
<line x1="186.90" y1="181.40" x2="189.9" y2="181.40" stroke="#111" stroke-width="0.9"/>
<line x1="188.30" y1="185.00" x2="189.9" y2="185.00" stroke="#111" stroke-width="0.9"/>
<line x1="188.30" y1="188.60" x2="189.9" y2="188.60" stroke="#111" stroke-width="0.9"/>
<line x1="188.30" y1="192.20" x2="189.9" y2="192.20" stroke="#111" stroke-width="0.9"/>
<line x1="188.30" y1="195.80" x2="189.9" y2="195.80" stroke="#111" stroke-width="0.9"/>
<line x1="186.90" y1="199.40" x2="189.9" y2="199.40" stroke="#111" stroke-width="0.9"/>
<line x1="188.30" y1="203.00" x2="189.9" y2="203.00" stroke="#111" stroke-width="0.9"/>
<line x1="188.30" y1="206.60" x2="189.9" y2="206.60" stroke="#111" stroke-width="0.9"/>
<line x1="188.30" y1="210.20" x2="189.9" y2="210.20" stroke="#111" stroke-width="0.9"/>
<line x1="188.30" y1="213.80" x2="189.9" y2="213.80" stroke="#111" stroke-width="0.9"/>
<line x1="186.90" y1="217.40" x2="189.9" y2="217.40" stroke="#111" stroke-width="0.9"/>
<line x1="188.30" y1="221.00" x2="189.9" y2="221.00" stroke="#111" stroke-width="0.9"/>
<line x1="188.30" y1="224.60" x2="189.9" y2="224.60" stroke="#111" stroke-width="0.9"/>
<line x1="188.30" y1="228.20" x2="189.9" y2="228.20" stroke="#111" stroke-width="0.9"/>
<line x1="188.30" y1="231.80" x2="189.9" y2="231.80" stroke="#111" stroke-width="0.9"/>
<line x1="189.90" y1="234.4" x2="189.90" y2="237.60" stroke="#111" stroke-width="0.9"/>
<line x1="195.83" y1="234.4" x2="195.83" y2="236.70" stroke="#111" stroke-width="0.9"/>
<line x1="199.30" y1="234.4" x2="199.30" y2="236.70" stroke="#111" stroke-width="0.9"/>
<line x1="201.76" y1="234.4" x2="201.76" y2="236.70" stroke="#111" stroke-width="0.9"/>
<line x1="203.67" y1="234.4" x2="203.67" y2="236.70" stroke="#111" stroke-width="0.9"/>
<line x1="205.23" y1="234.4" x2="205.23" y2="236.70" stroke="#111" stroke-width="0.9"/>
<line x1="206.55" y1="234.4" x2="206.55" y2="236.70" stroke="#111" stroke-width="0.9"/>
<line x1="207.69" y1="234.4" x2="207.69" y2="236.70" stroke="#111" stroke-width="0.9"/>
<line x1="208.70" y1="234.4" x2="208.70" y2="236.70" stroke="#111" stroke-width="0.9"/>
<line x1="209.60" y1="234.4" x2="209.60" y2="237.60" stroke="#111" stroke-width="0.9"/>
<line x1="215.53" y1="234.4" x2="215.53" y2="236.70" stroke="#111" stroke-width="0.9"/>
<line x1="219.00" y1="234.4" x2="219.00" y2="236.70" stroke="#111" stroke-width="0.9"/>
<line x1="221.46" y1="234.4" x2="221.46" y2="236.70" stroke="#111" stroke-width="0.9"/>
<line x1="223.37" y1="234.4" x2="223.37" y2="236.70" stroke="#111" stroke-width="0.9"/>
<line x1="224.93" y1="234.4" x2="224.93" y2="236.70" stroke="#111" stroke-width="0.9"/>
<line x1="226.25" y1="234.4" x2="226.25" y2="236.70" stroke="#111" stroke-width="0.9"/>
<line x1="227.39" y1="234.4" x2="227.39" y2="236.70" stroke="#111" stroke-width="0.9"/>
<line x1="228.40" y1="234.4" x2="228.40" y2="236.70" stroke="#111" stroke-width="0.9"/>
<line x1="229.30" y1="234.4" x2="229.30" y2="237.60" stroke="#111" stroke-width="0.9"/>
<line x1="235.23" y1="234.4" x2="235.23" y2="236.70" stroke="#111" stroke-width="0.9"/>
<line x1="238.70" y1="234.4" x2="238.70" y2="236.70" stroke="#111" stroke-width="0.9"/>
<line x1="241.16" y1="234.4" x2="241.16" y2="236.70" stroke="#111" stroke-width="0.9"/>
<line x1="243.07" y1="234.4" x2="243.07" y2="236.70" stroke="#111" stroke-width="0.9"/>
<line x1="244.63" y1="234.4" x2="244.63" y2="236.70" stroke="#111" stroke-width="0.9"/>
<line x1="245.95" y1="234.4" x2="245.95" y2="236.70" stroke="#111" stroke-width="0.9"/>
<line x1="247.09" y1="234.4" x2="247.09" y2="236.70" stroke="#111" stroke-width="0.9"/>
<line x1="248.10" y1="234.4" x2="248.10" y2="236.70" stroke="#111" stroke-width="0.9"/>
<line x1="249.00" y1="234.4" x2="249.00" y2="237.60" stroke="#111" stroke-width="0.9"/>
<line x1="254.93" y1="234.4" x2="254.93" y2="236.70" stroke="#111" stroke-width="0.9"/>
<line x1="258.40" y1="234.4" x2="258.40" y2="236.70" stroke="#111" stroke-width="0.9"/>
<line x1="260.86" y1="234.4" x2="260.86" y2="236.70" stroke="#111" stroke-width="0.9"/>
<line x1="262.77" y1="234.4" x2="262.77" y2="236.70" stroke="#111" stroke-width="0.9"/>
<line x1="264.33" y1="234.4" x2="264.33" y2="236.70" stroke="#111" stroke-width="0.9"/>
<line x1="265.65" y1="234.4" x2="265.65" y2="236.70" stroke="#111" stroke-width="0.9"/>
<line x1="266.79" y1="234.4" x2="266.79" y2="236.70" stroke="#111" stroke-width="0.9"/>
<line x1="267.80" y1="234.4" x2="267.80" y2="236.70" stroke="#111" stroke-width="0.9"/>
<line x1="268.70" y1="234.4" x2="268.70" y2="237.60" stroke="#111" stroke-width="0.9"/>
<line x1="274.63" y1="234.4" x2="274.63" y2="236.70" stroke="#111" stroke-width="0.9"/>
<line x1="278.10" y1="234.4" x2="278.10" y2="236.70" stroke="#111" stroke-width="0.9"/>
<line x1="306.1" y1="156.9" x2="361.9" y2="156.9" stroke="#333" stroke-width="1.3"/>
<line x1="361.9" y1="155.1" x2="361.9" y2="158.8" stroke="#333" stroke-width="1.3"/>
<text x="342.6" y="164.4" font-size="7.8" fill="#2a2a2a" class="w" style="stroke:#2a2a2a;stroke-width:0.2px">95%</text>
<path d="M307.00,234.25 L315.00,234.25 L318.50,233.00 L321.20,231.25 L323.90,223.20 L325.60,212.50 L327.40,194.60 L329.20,173.20 L331.00,157.10 L332.40,152.70 L333.70,155.40 L335.50,173.20 L337.25,194.60 L338.50,207.10 L340.80,214.30 L343.50,221.40 L346.20,226.00 L348.00,230.00 L351.00,231.80 L356.00,232.50 L361.00,234.25 L367.50,233.00 L370.30,229.70 L372.50,232.50 L374.50,233.00 L377.00,232.00 L379.00,233.00 L382.00,234.25 L396.10,234.25 L396.10,234.4 L307.00,234.4 Z" fill="#808080" stroke="none"/>
<path d="M307.00,234.25 L315.00,234.25 L318.50,233.00 L321.20,231.25 L323.90,223.20 L325.60,212.50 L327.40,194.60 L329.20,173.20 L331.00,157.10 L332.40,152.70 L333.70,155.40 L335.50,173.20 L337.25,194.60 L338.50,207.10 L340.80,214.30 L343.50,221.40 L346.20,226.00 L348.00,230.00 L351.00,231.80 L356.00,232.50 L361.00,234.25 L367.50,233.00 L370.30,229.70 L372.50,232.50 L374.50,233.00 L377.00,232.00 L379.00,233.00 L382.00,234.25 L396.10,234.25" fill="none" stroke="#000" stroke-width="1.3" stroke-linejoin="round"/>
<rect x="306.1" y="148.6" width="90.59999999999997" height="85.80000000000001" fill="none" stroke="#111" stroke-width="1.3"/>
<line x1="303.10" y1="155.70" x2="306.1" y2="155.70" stroke="#111" stroke-width="0.9"/>
<line x1="304.50" y1="162.22" x2="306.1" y2="162.22" stroke="#111" stroke-width="0.9"/>
<line x1="304.50" y1="168.75" x2="306.1" y2="168.75" stroke="#111" stroke-width="0.9"/>
<line x1="304.50" y1="175.27" x2="306.1" y2="175.27" stroke="#111" stroke-width="0.9"/>
<line x1="303.10" y1="181.80" x2="306.1" y2="181.80" stroke="#111" stroke-width="0.9"/>
<line x1="304.50" y1="188.32" x2="306.1" y2="188.32" stroke="#111" stroke-width="0.9"/>
<line x1="304.50" y1="194.85" x2="306.1" y2="194.85" stroke="#111" stroke-width="0.9"/>
<line x1="304.50" y1="201.38" x2="306.1" y2="201.38" stroke="#111" stroke-width="0.9"/>
<line x1="303.10" y1="207.90" x2="306.1" y2="207.90" stroke="#111" stroke-width="0.9"/>
<line x1="304.50" y1="214.42" x2="306.1" y2="214.42" stroke="#111" stroke-width="0.9"/>
<line x1="304.50" y1="220.95" x2="306.1" y2="220.95" stroke="#111" stroke-width="0.9"/>
<line x1="304.50" y1="227.47" x2="306.1" y2="227.47" stroke="#111" stroke-width="0.9"/>
<line x1="303.10" y1="234.00" x2="306.1" y2="234.00" stroke="#111" stroke-width="0.9"/>
<line x1="306.10" y1="234.4" x2="306.10" y2="237.60" stroke="#111" stroke-width="0.9"/>
<line x1="312.03" y1="234.4" x2="312.03" y2="236.70" stroke="#111" stroke-width="0.9"/>
<line x1="315.50" y1="234.4" x2="315.50" y2="236.70" stroke="#111" stroke-width="0.9"/>
<line x1="317.96" y1="234.4" x2="317.96" y2="236.70" stroke="#111" stroke-width="0.9"/>
<line x1="319.87" y1="234.4" x2="319.87" y2="236.70" stroke="#111" stroke-width="0.9"/>
<line x1="321.43" y1="234.4" x2="321.43" y2="236.70" stroke="#111" stroke-width="0.9"/>
<line x1="322.75" y1="234.4" x2="322.75" y2="236.70" stroke="#111" stroke-width="0.9"/>
<line x1="323.89" y1="234.4" x2="323.89" y2="236.70" stroke="#111" stroke-width="0.9"/>
<line x1="324.90" y1="234.4" x2="324.90" y2="236.70" stroke="#111" stroke-width="0.9"/>
<line x1="325.80" y1="234.4" x2="325.80" y2="237.60" stroke="#111" stroke-width="0.9"/>
<line x1="331.73" y1="234.4" x2="331.73" y2="236.70" stroke="#111" stroke-width="0.9"/>
<line x1="335.20" y1="234.4" x2="335.20" y2="236.70" stroke="#111" stroke-width="0.9"/>
<line x1="337.66" y1="234.4" x2="337.66" y2="236.70" stroke="#111" stroke-width="0.9"/>
<line x1="339.57" y1="234.4" x2="339.57" y2="236.70" stroke="#111" stroke-width="0.9"/>
<line x1="341.13" y1="234.4" x2="341.13" y2="236.70" stroke="#111" stroke-width="0.9"/>
<line x1="342.45" y1="234.4" x2="342.45" y2="236.70" stroke="#111" stroke-width="0.9"/>
<line x1="343.59" y1="234.4" x2="343.59" y2="236.70" stroke="#111" stroke-width="0.9"/>
<line x1="344.60" y1="234.4" x2="344.60" y2="236.70" stroke="#111" stroke-width="0.9"/>
<line x1="345.50" y1="234.4" x2="345.50" y2="237.60" stroke="#111" stroke-width="0.9"/>
<line x1="351.43" y1="234.4" x2="351.43" y2="236.70" stroke="#111" stroke-width="0.9"/>
<line x1="354.90" y1="234.4" x2="354.90" y2="236.70" stroke="#111" stroke-width="0.9"/>
<line x1="357.36" y1="234.4" x2="357.36" y2="236.70" stroke="#111" stroke-width="0.9"/>
<line x1="359.27" y1="234.4" x2="359.27" y2="236.70" stroke="#111" stroke-width="0.9"/>
<line x1="360.83" y1="234.4" x2="360.83" y2="236.70" stroke="#111" stroke-width="0.9"/>
<line x1="362.15" y1="234.4" x2="362.15" y2="236.70" stroke="#111" stroke-width="0.9"/>
<line x1="363.29" y1="234.4" x2="363.29" y2="236.70" stroke="#111" stroke-width="0.9"/>
<line x1="364.30" y1="234.4" x2="364.30" y2="236.70" stroke="#111" stroke-width="0.9"/>
<line x1="365.20" y1="234.4" x2="365.20" y2="237.60" stroke="#111" stroke-width="0.9"/>
<line x1="371.13" y1="234.4" x2="371.13" y2="236.70" stroke="#111" stroke-width="0.9"/>
<line x1="374.60" y1="234.4" x2="374.60" y2="236.70" stroke="#111" stroke-width="0.9"/>
<line x1="377.06" y1="234.4" x2="377.06" y2="236.70" stroke="#111" stroke-width="0.9"/>
<line x1="378.97" y1="234.4" x2="378.97" y2="236.70" stroke="#111" stroke-width="0.9"/>
<line x1="380.53" y1="234.4" x2="380.53" y2="236.70" stroke="#111" stroke-width="0.9"/>
<line x1="381.85" y1="234.4" x2="381.85" y2="236.70" stroke="#111" stroke-width="0.9"/>
<line x1="382.99" y1="234.4" x2="382.99" y2="236.70" stroke="#111" stroke-width="0.9"/>
<line x1="384.00" y1="234.4" x2="384.00" y2="236.70" stroke="#111" stroke-width="0.9"/>
<line x1="384.90" y1="234.4" x2="384.90" y2="237.60" stroke="#111" stroke-width="0.9"/>
<line x1="390.83" y1="234.4" x2="390.83" y2="236.70" stroke="#111" stroke-width="0.9"/>
<line x1="394.30" y1="234.4" x2="394.30" y2="236.70" stroke="#111" stroke-width="0.9"/>
<line x1="422.4" y1="156.9" x2="477.9" y2="156.9" stroke="#333" stroke-width="1.3"/>
<line x1="477.9" y1="155.1" x2="477.9" y2="158.8" stroke="#333" stroke-width="1.3"/>
<text x="458.8" y="164.7" font-size="7.8" fill="#2a2a2a" class="w" style="stroke:#2a2a2a;stroke-width:0.2px">96%</text>
<path d="M423.00,234.25 L430.00,234.25 L432.70,233.00 L436.30,231.25 L439.00,226.80 L440.75,219.60 L442.50,203.60 L444.30,182.10 L446.10,164.30 L447.50,158.00 L448.40,155.00 L449.70,160.70 L451.50,176.80 L453.25,192.90 L455.00,208.90 L456.80,219.60 L459.50,225.90 L462.00,228.80 L464.00,228.80 L465.50,230.50 L467.50,232.30 L470.00,231.20 L472.00,232.20 L474.00,232.50 L476.50,234.25 L482.00,234.25 L491.00,234.25 L492.50,231.50 L494.00,228.00 L495.00,227.50 L496.50,231.00 L498.00,234.25 L501.00,234.25 L512.40,234.25 L512.40,234.4 L423.00,234.4 Z" fill="#808080" stroke="none"/>
<path d="M423.00,234.25 L430.00,234.25 L432.70,233.00 L436.30,231.25 L439.00,226.80 L440.75,219.60 L442.50,203.60 L444.30,182.10 L446.10,164.30 L447.50,158.00 L448.40,155.00 L449.70,160.70 L451.50,176.80 L453.25,192.90 L455.00,208.90 L456.80,219.60 L459.50,225.90 L462.00,228.80 L464.00,228.80 L465.50,230.50 L467.50,232.30 L470.00,231.20 L472.00,232.20 L474.00,232.50 L476.50,234.25 L482.00,234.25 L491.00,234.25 L492.50,231.50 L494.00,228.00 L495.00,227.50 L496.50,231.00 L498.00,234.25 L501.00,234.25 L512.40,234.25" fill="none" stroke="#000" stroke-width="1.3" stroke-linejoin="round"/>
<rect x="422.4" y="149.9" width="90.60000000000002" height="84.5" fill="none" stroke="#111" stroke-width="1.3"/>
<line x1="420.80" y1="154.40" x2="422.4" y2="154.40" stroke="#111" stroke-width="0.9"/>
<line x1="420.80" y1="158.90" x2="422.4" y2="158.90" stroke="#111" stroke-width="0.9"/>
<line x1="419.40" y1="163.40" x2="422.4" y2="163.40" stroke="#111" stroke-width="0.9"/>
<line x1="420.80" y1="167.90" x2="422.4" y2="167.90" stroke="#111" stroke-width="0.9"/>
<line x1="420.80" y1="172.40" x2="422.4" y2="172.40" stroke="#111" stroke-width="0.9"/>
<line x1="420.80" y1="176.90" x2="422.4" y2="176.90" stroke="#111" stroke-width="0.9"/>
<line x1="419.40" y1="181.40" x2="422.4" y2="181.40" stroke="#111" stroke-width="0.9"/>
<line x1="420.80" y1="185.90" x2="422.4" y2="185.90" stroke="#111" stroke-width="0.9"/>
<line x1="420.80" y1="190.40" x2="422.4" y2="190.40" stroke="#111" stroke-width="0.9"/>
<line x1="420.80" y1="194.90" x2="422.4" y2="194.90" stroke="#111" stroke-width="0.9"/>
<line x1="419.40" y1="199.40" x2="422.4" y2="199.40" stroke="#111" stroke-width="0.9"/>
<line x1="420.80" y1="203.90" x2="422.4" y2="203.90" stroke="#111" stroke-width="0.9"/>
<line x1="420.80" y1="208.40" x2="422.4" y2="208.40" stroke="#111" stroke-width="0.9"/>
<line x1="420.80" y1="212.90" x2="422.4" y2="212.90" stroke="#111" stroke-width="0.9"/>
<line x1="419.40" y1="217.40" x2="422.4" y2="217.40" stroke="#111" stroke-width="0.9"/>
<line x1="420.80" y1="221.90" x2="422.4" y2="221.90" stroke="#111" stroke-width="0.9"/>
<line x1="420.80" y1="226.40" x2="422.4" y2="226.40" stroke="#111" stroke-width="0.9"/>
<line x1="420.80" y1="230.90" x2="422.4" y2="230.90" stroke="#111" stroke-width="0.9"/>
<line x1="422.40" y1="234.4" x2="422.40" y2="237.60" stroke="#111" stroke-width="0.9"/>
<line x1="428.33" y1="234.4" x2="428.33" y2="236.70" stroke="#111" stroke-width="0.9"/>
<line x1="431.80" y1="234.4" x2="431.80" y2="236.70" stroke="#111" stroke-width="0.9"/>
<line x1="434.26" y1="234.4" x2="434.26" y2="236.70" stroke="#111" stroke-width="0.9"/>
<line x1="436.17" y1="234.4" x2="436.17" y2="236.70" stroke="#111" stroke-width="0.9"/>
<line x1="437.73" y1="234.4" x2="437.73" y2="236.70" stroke="#111" stroke-width="0.9"/>
<line x1="439.05" y1="234.4" x2="439.05" y2="236.70" stroke="#111" stroke-width="0.9"/>
<line x1="440.19" y1="234.4" x2="440.19" y2="236.70" stroke="#111" stroke-width="0.9"/>
<line x1="441.20" y1="234.4" x2="441.20" y2="236.70" stroke="#111" stroke-width="0.9"/>
<line x1="442.10" y1="234.4" x2="442.10" y2="237.60" stroke="#111" stroke-width="0.9"/>
<line x1="448.03" y1="234.4" x2="448.03" y2="236.70" stroke="#111" stroke-width="0.9"/>
<line x1="451.50" y1="234.4" x2="451.50" y2="236.70" stroke="#111" stroke-width="0.9"/>
<line x1="453.96" y1="234.4" x2="453.96" y2="236.70" stroke="#111" stroke-width="0.9"/>
<line x1="455.87" y1="234.4" x2="455.87" y2="236.70" stroke="#111" stroke-width="0.9"/>
<line x1="457.43" y1="234.4" x2="457.43" y2="236.70" stroke="#111" stroke-width="0.9"/>
<line x1="458.75" y1="234.4" x2="458.75" y2="236.70" stroke="#111" stroke-width="0.9"/>
<line x1="459.89" y1="234.4" x2="459.89" y2="236.70" stroke="#111" stroke-width="0.9"/>
<line x1="460.90" y1="234.4" x2="460.90" y2="236.70" stroke="#111" stroke-width="0.9"/>
<line x1="461.80" y1="234.4" x2="461.80" y2="237.60" stroke="#111" stroke-width="0.9"/>
<line x1="467.73" y1="234.4" x2="467.73" y2="236.70" stroke="#111" stroke-width="0.9"/>
<line x1="471.20" y1="234.4" x2="471.20" y2="236.70" stroke="#111" stroke-width="0.9"/>
<line x1="473.66" y1="234.4" x2="473.66" y2="236.70" stroke="#111" stroke-width="0.9"/>
<line x1="475.57" y1="234.4" x2="475.57" y2="236.70" stroke="#111" stroke-width="0.9"/>
<line x1="477.13" y1="234.4" x2="477.13" y2="236.70" stroke="#111" stroke-width="0.9"/>
<line x1="478.45" y1="234.4" x2="478.45" y2="236.70" stroke="#111" stroke-width="0.9"/>
<line x1="479.59" y1="234.4" x2="479.59" y2="236.70" stroke="#111" stroke-width="0.9"/>
<line x1="480.60" y1="234.4" x2="480.60" y2="236.70" stroke="#111" stroke-width="0.9"/>
<line x1="481.50" y1="234.4" x2="481.50" y2="237.60" stroke="#111" stroke-width="0.9"/>
<line x1="487.43" y1="234.4" x2="487.43" y2="236.70" stroke="#111" stroke-width="0.9"/>
<line x1="490.90" y1="234.4" x2="490.90" y2="236.70" stroke="#111" stroke-width="0.9"/>
<line x1="493.36" y1="234.4" x2="493.36" y2="236.70" stroke="#111" stroke-width="0.9"/>
<line x1="495.27" y1="234.4" x2="495.27" y2="236.70" stroke="#111" stroke-width="0.9"/>
<line x1="496.83" y1="234.4" x2="496.83" y2="236.70" stroke="#111" stroke-width="0.9"/>
<line x1="498.15" y1="234.4" x2="498.15" y2="236.70" stroke="#111" stroke-width="0.9"/>
<line x1="499.29" y1="234.4" x2="499.29" y2="236.70" stroke="#111" stroke-width="0.9"/>
<line x1="500.30" y1="234.4" x2="500.30" y2="236.70" stroke="#111" stroke-width="0.9"/>
<line x1="501.20" y1="234.4" x2="501.20" y2="237.60" stroke="#111" stroke-width="0.9"/>
<line x1="507.13" y1="234.4" x2="507.13" y2="236.70" stroke="#111" stroke-width="0.9"/>
<line x1="510.60" y1="234.4" x2="510.60" y2="236.70" stroke="#111" stroke-width="0.9"/>
<text x="7.0" y="16.9" font-size="11.8" font-weight="bold" text-anchor="start" fill="#000" >A</text>
<text x="119.0" y="31.4" font-size="9.9" font-weight="bold" text-anchor="middle" fill="#000" >PHA</text>
<text x="233.9" y="31.2" font-size="9.9" text-anchor="middle" font-weight="bold"><tspan font-weight="normal" font-family="Liberation Serif" font-style="italic" font-size="10.5">&#945;</tspan>CD3</text>
<text x="351.6" y="31.0" font-size="9.9" text-anchor="middle" font-weight="bold"><tspan font-weight="normal" font-family="Liberation Serif" font-style="italic" font-size="10.5">&#945;</tspan>CD3/CD28</text>
<text x="466.4" y="31.4" font-size="9.9" font-weight="bold" text-anchor="middle" fill="#000" >DC</text>
<text x="66.3" y="51.9" font-size="8.0" font-weight="bold" text-anchor="end" fill="#000" >Control DNT</text>
<text x="65.5" y="159.3" font-size="8.0" font-weight="bold" text-anchor="end" fill="#000" >ALPS DNT</text>
<line x1="64.6" y1="244.3" x2="64.6" y2="215" stroke="#000" stroke-width="1.2"/>
<path d="M64.6,209.4 L61.3,216.8 L67.9,216.8 Z" fill="#000"/>
<line x1="64" y1="244.3" x2="94" y2="244.3" stroke="#000" stroke-width="1.2"/>
<path d="M100.4,244.3 L92.9,241.2 L92.9,247.4 Z" fill="#000"/>
<text x="107.8" y="249.7" font-size="10.6" textLength="19.5" lengthAdjust="spacingAndGlyphs" class="w">CFSE</text>
<text transform="translate(67.6,202) rotate(-90)" font-size="10.2" textLength="22" lengthAdjust="spacingAndGlyphs" class="w">Count</text>
<text x="7.4" y="277.9" font-size="11.6" font-weight="bold" text-anchor="start" fill="#000" >B</text>
<line x1="53.4" y1="289.28" x2="53.4" y2="419.0" stroke="#000" stroke-width="1.2"/>
<line x1="52.8" y1="418.5" x2="242.0" y2="418.5" stroke="#000" stroke-width="1.2"/>
<line x1="50.4" y1="418.50" x2="53.4" y2="418.50" stroke="#000" stroke-width="1"/>
<text x="46.6" y="421.70" font-size="8.3" text-anchor="end" fill="#111" class="w">0</text>
<line x1="50.4" y1="393.36" x2="53.4" y2="393.36" stroke="#000" stroke-width="1"/>
<text x="46.6" y="396.56" font-size="8.3" text-anchor="end" fill="#111" class="w">20</text>
<line x1="50.4" y1="368.22" x2="53.4" y2="368.22" stroke="#000" stroke-width="1"/>
<text x="46.6" y="371.42" font-size="8.3" text-anchor="end" fill="#111" class="w">40</text>
<line x1="50.4" y1="343.08" x2="53.4" y2="343.08" stroke="#000" stroke-width="1"/>
<text x="46.6" y="346.28" font-size="8.3" text-anchor="end" fill="#111" class="w">60</text>
<line x1="50.4" y1="317.94" x2="53.4" y2="317.94" stroke="#000" stroke-width="1"/>
<text x="46.6" y="321.14" font-size="8.3" text-anchor="end" fill="#111" class="w">80</text>
<line x1="50.4" y1="292.80" x2="53.4" y2="292.80" stroke="#000" stroke-width="1"/>
<text x="46.6" y="296.00" font-size="8.3" text-anchor="end" fill="#111" class="w">100</text>
<rect x="56.80" y="399.39" width="13.8" height="19.11" fill="#cdcdcd"/>
<line x1="63.70" y1="399.39" x2="63.70" y2="386.32" stroke="#000" stroke-width="1.2"/>
<line x1="60.40" y1="386.32" x2="67.00" y2="386.32" stroke="#000" stroke-width="1.2"/>
<line x1="63.70" y1="418.5" x2="63.70" y2="421.9" stroke="#000" stroke-width="1.1"/>
<rect x="77.70" y="398.26" width="13.8" height="20.24" fill="#cdcdcd"/>
<line x1="84.60" y1="398.26" x2="84.60" y2="390.85" stroke="#000" stroke-width="1.2"/>
<line x1="81.30" y1="390.85" x2="87.90" y2="390.85" stroke="#000" stroke-width="1.2"/>
<line x1="84.60" y1="418.5" x2="84.60" y2="421.9" stroke="#000" stroke-width="1.1"/>
<rect x="98.90" y="314.67" width="13.8" height="103.83" fill="#cdcdcd"/>
<line x1="105.80" y1="314.67" x2="105.80" y2="306.25" stroke="#000" stroke-width="1.2"/>
<line x1="102.50" y1="306.25" x2="109.10" y2="306.25" stroke="#000" stroke-width="1.2"/>
<line x1="105.80" y1="418.5" x2="105.80" y2="421.9" stroke="#000" stroke-width="1.1"/>
<rect x="119.60" y="338.43" width="13.8" height="80.07" fill="#cdcdcd"/>
<line x1="126.50" y1="338.43" x2="126.50" y2="320.96" stroke="#000" stroke-width="1.2"/>
<line x1="123.20" y1="320.96" x2="129.80" y2="320.96" stroke="#000" stroke-width="1.2"/>
<line x1="126.50" y1="418.5" x2="126.50" y2="421.9" stroke="#000" stroke-width="1.1"/>
<rect x="161.40" y="339.69" width="13.8" height="78.81" fill="#000"/>
<line x1="168.30" y1="339.69" x2="168.30" y2="329.50" stroke="#000" stroke-width="1.2"/>
<line x1="165.00" y1="329.50" x2="171.60" y2="329.50" stroke="#000" stroke-width="1.2"/>
<line x1="168.30" y1="418.5" x2="168.30" y2="421.9" stroke="#000" stroke-width="1.1"/>
<rect x="182.50" y="311.28" width="13.8" height="107.22" fill="#000"/>
<line x1="189.40" y1="311.28" x2="189.40" y2="309.90" stroke="#000" stroke-width="1.2"/>
<line x1="186.10" y1="309.90" x2="192.70" y2="309.90" stroke="#000" stroke-width="1.2"/>
<line x1="189.40" y1="418.5" x2="189.40" y2="421.9" stroke="#000" stroke-width="1.1"/>
<rect x="203.30" y="302.10" width="13.8" height="116.40" fill="#000"/>
<line x1="210.20" y1="302.10" x2="210.20" y2="298.71" stroke="#000" stroke-width="1.2"/>
<line x1="206.90" y1="298.71" x2="213.50" y2="298.71" stroke="#000" stroke-width="1.2"/>
<line x1="210.20" y1="418.5" x2="210.20" y2="421.9" stroke="#000" stroke-width="1.1"/>
<rect x="224.30" y="319.45" width="13.8" height="99.05" fill="#000"/>
<line x1="231.20" y1="319.45" x2="231.20" y2="315.05" stroke="#000" stroke-width="1.2"/>
<line x1="227.90" y1="315.05" x2="234.50" y2="315.05" stroke="#000" stroke-width="1.2"/>
<line x1="231.20" y1="418.5" x2="231.20" y2="421.9" stroke="#000" stroke-width="1.1"/>
<line x1="147.4" y1="418.5" x2="147.4" y2="421.9" stroke="#000" stroke-width="1.1"/>
<text transform="translate(27.2,383.2) rotate(-90)" font-size="9.2" textLength="58.7" lengthAdjust="spacingAndGlyphs" fill="#111" class="w">% proliferation</text>
<text transform="translate(66.90,430.3) rotate(-45)" font-size="8.5" text-anchor="end" fill="#111" class="w" textLength="21.4" lengthAdjust="spacingAndGlyphs">+PHA</text>
<text transform="translate(87.80,430.4) rotate(-45)" font-size="8.5" text-anchor="end" fill="#111" class="w" textLength="26.1" lengthAdjust="spacingAndGlyphs">+<tspan font-family="Liberation Serif" font-style="italic">&#945;</tspan>CD3</text>
<text transform="translate(108.80,430.4) rotate(-45)" font-size="8.5" text-anchor="end" fill="#111" class="w" textLength="50.3" lengthAdjust="spacingAndGlyphs">+<tspan font-family="Liberation Serif" font-style="italic">&#945;</tspan>CD3/CD28</text>
<text transform="translate(129.10,430.6) rotate(-45)" font-size="8.5" text-anchor="end" fill="#111" class="w" textLength="15.5" lengthAdjust="spacingAndGlyphs">+DC</text>
<text transform="translate(171.50,430.3) rotate(-45)" font-size="8.5" text-anchor="end" fill="#111" class="w" textLength="21.4" lengthAdjust="spacingAndGlyphs">+PHA</text>
<text transform="translate(192.60,430.4) rotate(-45)" font-size="8.5" text-anchor="end" fill="#111" class="w" textLength="26.1" lengthAdjust="spacingAndGlyphs">+<tspan font-family="Liberation Serif" font-style="italic">&#945;</tspan>CD3</text>
<text transform="translate(213.20,430.4) rotate(-45)" font-size="8.5" text-anchor="end" fill="#111" class="w" textLength="50.3" lengthAdjust="spacingAndGlyphs">+<tspan font-family="Liberation Serif" font-style="italic">&#945;</tspan>CD3/CD28</text>
<text transform="translate(233.80,430.6) rotate(-45)" font-size="8.5" text-anchor="end" fill="#111" class="w" textLength="15.5" lengthAdjust="spacingAndGlyphs">+DC</text>
<line x1="63.0" y1="467.5" x2="126.9" y2="467.5" stroke="#000" stroke-width="1.2"/>
<text x="74.5" y="479.8" font-size="10" fill="#111" textLength="40.7" lengthAdjust="spacingAndGlyphs" class="w">ALPS DNT</text>
<line x1="167.8" y1="467.5" x2="231.8" y2="467.5" stroke="#000" stroke-width="1.2"/>
<text x="175.9" y="479.8" font-size="10" fill="#111" textLength="47.8" lengthAdjust="spacingAndGlyphs" class="w">Control DNT</text>
<line x1="85.2" y1="275.9" x2="189" y2="275.9" stroke="#222" stroke-width="1.3"/>
<circle cx="137.0" cy="270.7" r="1.15" fill="#111"/>
<line x1="64.4" y1="294.9" x2="168.5" y2="294.9" stroke="#222" stroke-width="1.3"/>
<circle cx="116.3" cy="289.8" r="1.15" fill="#111"/>
<line x1="324.0" y1="289.28" x2="324.0" y2="419.0" stroke="#000" stroke-width="1.2"/>
<line x1="323.4" y1="418.5" x2="513.0" y2="418.5" stroke="#000" stroke-width="1.2"/>
<line x1="321.0" y1="418.50" x2="324.0" y2="418.50" stroke="#000" stroke-width="1"/>
<text x="318.2" y="421.70" font-size="8.3" text-anchor="end" fill="#111" class="w">0</text>
<line x1="321.0" y1="393.36" x2="324.0" y2="393.36" stroke="#000" stroke-width="1"/>
<text x="318.2" y="396.56" font-size="8.3" text-anchor="end" fill="#111" class="w">20</text>
<line x1="321.0" y1="368.22" x2="324.0" y2="368.22" stroke="#000" stroke-width="1"/>
<text x="318.2" y="371.42" font-size="8.3" text-anchor="end" fill="#111" class="w">40</text>
<line x1="321.0" y1="343.08" x2="324.0" y2="343.08" stroke="#000" stroke-width="1"/>
<text x="318.2" y="346.28" font-size="8.3" text-anchor="end" fill="#111" class="w">60</text>
<line x1="321.0" y1="317.94" x2="324.0" y2="317.94" stroke="#000" stroke-width="1"/>
<text x="318.2" y="321.14" font-size="8.3" text-anchor="end" fill="#111" class="w">80</text>
<line x1="321.0" y1="292.80" x2="324.0" y2="292.80" stroke="#000" stroke-width="1"/>
<text x="318.2" y="296.00" font-size="8.3" text-anchor="end" fill="#111" class="w">100</text>
<rect x="328.40" y="308.26" width="13.8" height="110.24" fill="#cdcdcd"/>
<line x1="335.30" y1="308.26" x2="335.30" y2="303.86" stroke="#000" stroke-width="1.2"/>
<line x1="332.00" y1="303.86" x2="338.60" y2="303.86" stroke="#000" stroke-width="1.2"/>
<line x1="335.30" y1="418.5" x2="335.30" y2="421.9" stroke="#000" stroke-width="1.1"/>
<rect x="349.10" y="330.13" width="13.8" height="88.37" fill="#cdcdcd"/>
<line x1="356.00" y1="330.13" x2="356.00" y2="317.94" stroke="#000" stroke-width="1.2"/>
<line x1="352.70" y1="317.94" x2="359.30" y2="317.94" stroke="#000" stroke-width="1.2"/>
<line x1="356.00" y1="418.5" x2="356.00" y2="421.9" stroke="#000" stroke-width="1.1"/>
<rect x="370.20" y="294.81" width="13.8" height="123.69" fill="#cdcdcd"/>
<line x1="377.10" y1="294.81" x2="377.10" y2="294.31" stroke="#000" stroke-width="1.2"/>
<line x1="373.80" y1="294.31" x2="380.40" y2="294.31" stroke="#000" stroke-width="1.2"/>
<line x1="377.10" y1="418.5" x2="377.10" y2="421.9" stroke="#000" stroke-width="1.1"/>
<rect x="390.80" y="321.71" width="13.8" height="96.79" fill="#cdcdcd"/>
<line x1="397.70" y1="321.71" x2="397.70" y2="309.52" stroke="#000" stroke-width="1.2"/>
<line x1="394.40" y1="309.52" x2="401.00" y2="309.52" stroke="#000" stroke-width="1.2"/>
<line x1="397.70" y1="418.5" x2="397.70" y2="421.9" stroke="#000" stroke-width="1.1"/>
<rect x="432.95" y="306.75" width="13.8" height="111.75" fill="#000"/>
<line x1="439.85" y1="306.75" x2="439.85" y2="301.85" stroke="#000" stroke-width="1.2"/>
<line x1="436.55" y1="301.85" x2="443.15" y2="301.85" stroke="#000" stroke-width="1.2"/>
<line x1="439.85" y1="418.5" x2="439.85" y2="421.9" stroke="#000" stroke-width="1.1"/>
<rect x="453.85" y="320.33" width="13.8" height="98.17" fill="#000"/>
<line x1="460.75" y1="320.33" x2="460.75" y2="304.74" stroke="#000" stroke-width="1.2"/>
<line x1="457.45" y1="304.74" x2="464.05" y2="304.74" stroke="#000" stroke-width="1.2"/>
<line x1="460.75" y1="418.5" x2="460.75" y2="421.9" stroke="#000" stroke-width="1.1"/>
<rect x="474.80" y="295.82" width="13.8" height="122.68" fill="#000"/>
<line x1="481.70" y1="295.82" x2="481.70" y2="295.31" stroke="#000" stroke-width="1.2"/>
<line x1="478.40" y1="295.31" x2="485.00" y2="295.31" stroke="#000" stroke-width="1.2"/>
<line x1="481.70" y1="418.5" x2="481.70" y2="421.9" stroke="#000" stroke-width="1.1"/>
<rect x="495.40" y="328.37" width="13.8" height="90.13" fill="#000"/>
<line x1="502.30" y1="328.37" x2="502.30" y2="317.69" stroke="#000" stroke-width="1.2"/>
<line x1="499.00" y1="317.69" x2="505.60" y2="317.69" stroke="#000" stroke-width="1.2"/>
<line x1="502.30" y1="418.5" x2="502.30" y2="421.9" stroke="#000" stroke-width="1.1"/>
<line x1="418.5" y1="418.5" x2="418.5" y2="421.9" stroke="#000" stroke-width="1.1"/>
<text transform="translate(298.8,381.6) rotate(-90)" font-size="9.2" textLength="56.6" lengthAdjust="spacingAndGlyphs" fill="#111" class="w">% proliferation</text>
<text transform="translate(338.50,430.3) rotate(-45)" font-size="8.5" text-anchor="end" fill="#111" class="w" textLength="21.4" lengthAdjust="spacingAndGlyphs">+PHA</text>
<text transform="translate(359.20,430.4) rotate(-45)" font-size="8.5" text-anchor="end" fill="#111" class="w" textLength="26.1" lengthAdjust="spacingAndGlyphs">+<tspan font-family="Liberation Serif" font-style="italic">&#945;</tspan>CD3</text>
<text transform="translate(380.10,430.4) rotate(-45)" font-size="8.5" text-anchor="end" fill="#111" class="w" textLength="50.3" lengthAdjust="spacingAndGlyphs">+<tspan font-family="Liberation Serif" font-style="italic">&#945;</tspan>CD3/CD28</text>
<text transform="translate(400.30,430.6) rotate(-45)" font-size="8.5" text-anchor="end" fill="#111" class="w" textLength="15.5" lengthAdjust="spacingAndGlyphs">+DC</text>
<text transform="translate(443.05,430.3) rotate(-45)" font-size="8.5" text-anchor="end" fill="#111" class="w" textLength="21.4" lengthAdjust="spacingAndGlyphs">+PHA</text>
<text transform="translate(463.95,430.4) rotate(-45)" font-size="8.5" text-anchor="end" fill="#111" class="w" textLength="26.1" lengthAdjust="spacingAndGlyphs">+<tspan font-family="Liberation Serif" font-style="italic">&#945;</tspan>CD3</text>
<text transform="translate(484.70,430.4) rotate(-45)" font-size="8.5" text-anchor="end" fill="#111" class="w" textLength="50.3" lengthAdjust="spacingAndGlyphs">+<tspan font-family="Liberation Serif" font-style="italic">&#945;</tspan>CD3/CD28</text>
<text transform="translate(504.90,430.6) rotate(-45)" font-size="8.5" text-anchor="end" fill="#111" class="w" textLength="15.5" lengthAdjust="spacingAndGlyphs">+DC</text>
<line x1="334.7" y1="467.5" x2="398.7" y2="467.5" stroke="#000" stroke-width="1.2"/>
<text x="346.3" y="479.8" font-size="10" fill="#111" textLength="40.0" lengthAdjust="spacingAndGlyphs" class="w">ALPS CD4</text>
<line x1="439.6" y1="467.5" x2="503.9" y2="467.5" stroke="#000" stroke-width="1.2"/>
<text x="447.7" y="479.8" font-size="10" fill="#111" textLength="47.2" lengthAdjust="spacingAndGlyphs" class="w">Control CD4</text>
<rect x="0.6" y="0.6" width="518.8" height="485.8" fill="none" stroke="#000" stroke-width="1.3"/>
</svg>
</body></html>
